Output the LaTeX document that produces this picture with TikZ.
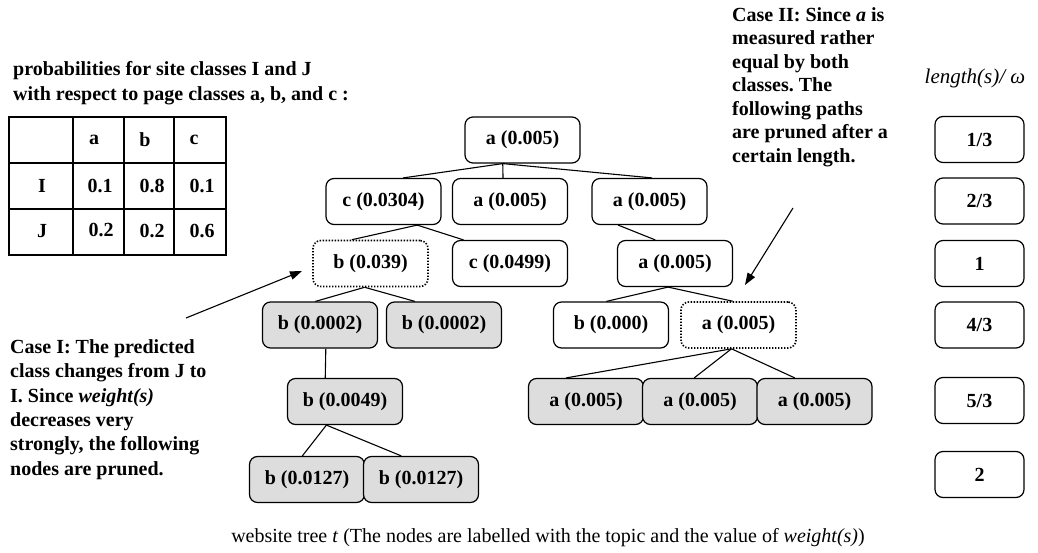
\documentclass[tikz,border=0pt]{standalone}
\usepackage{fontspec}
\setmainfont{Liberation Serif}
\usetikzlibrary{arrows.meta,calc}
\definecolor{prunedgray}{RGB}{221,221,221}
% connector from a point on the lower edge of one box to a point on the upper edge of another
\newcommand\treelink[4]{\draw[link] ($(#1.south west)!#2!(#1.south east)$) -- ($(#3.north west)!#4!(#3.north east)$);}
\frenchspacing
\begin{document}
\begin{tikzpicture}[x=1pt,y=-1pt,
  bigbf/.style={font=\fontsize{20}{24}\selectfont\bfseries},
  cell/.style={bigbf, inner sep=0pt, anchor=center},
  treebox/.style={draw, line width=1.2pt, rounded corners=8pt, minimum width=115pt,
    minimum height=46pt, inner sep=0pt, bigbf},
  pruned/.style={treebox, fill=prunedgray},
  watched/.style={treebox, line width=1.6pt, dash pattern=on 1.4pt off 1.6pt},
  lenbox/.style={treebox, minimum width=89pt},
  link/.style={line width=1.1pt},
  pointer/.style={line width=1.1pt, -{Triangle[length=12pt,width=8.5pt]}},
  note/.style={font=\fontsize{20}{23.5}\selectfont\bfseries, align=left, inner sep=0pt, anchor=north west}
]
\useasboundingbox (0,0) rectangle (1038,553);

% heading and probability table
\node[note, font=\fontsize{20}{24.5}\selectfont\bfseries] (head) at (13,61.5)
  {probabilities for site classes I and J\\with respect to page classes a, b, and c :};
\draw[line width=1.4pt] (9,117) rectangle (226,255)
  (73,117) -- (73,255) (124,117) -- (124,255) (174,117) -- (174,255)
  (9,163) -- (226,163) (9,209) -- (226,209);
\node[cell] (ha) at (94,140) {a};
\node[cell] (hb) at (145,140) {b};
\node[cell] (hc) at (194,140) {c};
\node[cell] (rI) at (42,186) {I};
\node[cell] (rJ) at (42,231) {J};
\node[cell] (Ia) at (100,186) {0.1};
\node[cell] (Ib) at (152,186) {0.8};
\node[cell] (Ic) at (202,186) {0.1};
\node[cell] (Ja) at (101,230) {0.2};
\node[cell] (Jb) at (152,231) {0.2};
\node[cell] (Jc) at (202,231) {0.6};

% website tree
\node[treebox] (root)   at (522.5,140)   {a (0.005)};
\node[treebox] (c1)     at (383.5,201.5) {c (0.0304)};
\node[treebox] (a1)     at (510,201.5)   {a (0.005)};
\node[treebox] (a2)     at (649.5,201.5) {a (0.005)};
\node[watched] (b1)     at (370.5,263.5) {b (0.039)};
\node[treebox] (c2)     at (510,263.5)   {c (0.0499)};
\node[treebox] (a3)     at (675,263.5)   {a (0.005)};
\node[pruned]  (b2)     at (320,325)     {b (0.0002)};
\node[pruned]  (b3)     at (444,325)     {b (0.0002)};
\node[treebox] (b4)     at (611,325)     {b (0.000)};
\node[watched] (a4)     at (738.5,325)   {a (0.005)};
\node[pruned]  (b5)     at (345,401.5)   {b (0.0049)};
\node[pruned]  (a5)     at (586,401.5)   {a (0.005)};
\node[pruned]  (a6)     at (700,401.5)   {a (0.005)};
\node[pruned]  (a7)     at (814.5,401.5) {a (0.005)};
\node[pruned]  (b6)     at (307,479.5)   {b (0.0127)};
\node[pruned]  (b7)     at (421,479.5)   {b (0.0127)};

\treelink{root}{0.33}{c1}{0.67}
\treelink{root}{0.33}{a1}{0.44}
\treelink{root}{0.33}{a2}{0.52}
\treelink{c1}{0.79}{b1}{0.34}
\treelink{c1}{0.79}{c2}{0.10}
\treelink{a2}{0.23}{a3}{0.33}
\treelink{b1}{0.45}{b2}{0.46}
\treelink{b1}{0.45}{b3}{0.25}
\treelink{b2}{0.55}{b5}{0.33}
\treelink{b5}{0.34}{b6}{0.46}
\treelink{b5}{0.34}{b7}{0.33}
\treelink{a3}{0.44}{b4}{0.46}
\treelink{a3}{0.44}{a4}{0.45}
\treelink{a4}{0.44}{a5}{0.33}
\treelink{a4}{0.44}{a6}{0.45}
\treelink{a4}{0.44}{a7}{0.33}

% length scale
\node[font=\fontsize{21}{25}\selectfont\itshape, inner sep=0pt, anchor=base] (lenhead) at (975,84) {length(s)/ ω};
\node[lenbox] (l1) at (979.5,139.5) {1/3};
\node[lenbox] (l2) at (979.5,201)   {2/3};
\node[lenbox] (l3) at (979.5,263.5) {1};
\node[lenbox] (l4) at (979.5,325)   {4/3};
\node[lenbox] (l5) at (979.5,400.5) {5/3};
\node[lenbox] (l6) at (979.5,474.5) {2};

% annotations
\node[note, font=\fontsize{20}{24.3}\selectfont\bfseries] (case1) at (10,339.5)
  {Case I: The predicted\\class changes from J to\\I. Since \textit{weight(s)}\\decreases very\\strongly, the following\\nodes are pruned.};
\node[note] (case2) at (732,7)
  {Case II: Since \textit{a} is\\measured rather\\equal by both\\classes. The\\following paths\\are pruned after a\\certain length.};
\coordinate (p1tail) at (186,318);
\coordinate (p1tip)  at (302,271);
\coordinate (p2tail) at (793,208);
\coordinate (p2tip)  at (745,285);
\draw[pointer] (p1tail) -- (p1tip);
\draw[pointer] (p2tail) -- (p2tip);

% caption
\node[font=\fontsize{20}{24}\selectfont, inner sep=0pt, anchor=base] (caption) at (548,542)
  {website tree \textit{t} (The nodes are labelled with the topic and the value of \textit{weight(s)})};
\end{tikzpicture}
\end{document}
